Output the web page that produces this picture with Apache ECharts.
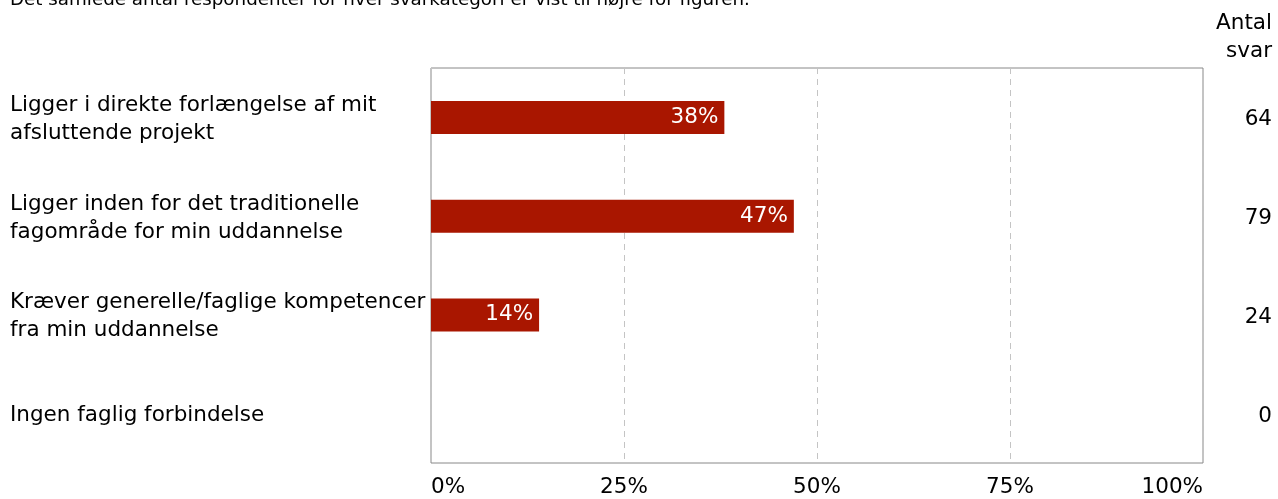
<!DOCTYPE html>
<html><head><meta charset="utf-8">
<script src="https://cdn.jsdelivr.net/npm/echarts@6/dist/echarts.min.js"></script>
<style>html,body{margin:0;padding:0;background:#fff}#c{width:1278px;height:499px}</style>
</head><body><div id="c"></div>
<script>
const categories = [
  "Ligger i direkte forlængelse af mit\nafsluttende projekt",
  "Ligger inden for det traditionelle\nfagområde for min uddannelse",
  "Kræver generelle/faglige kompetencer\nfra min uddannelse",
  "Ingen faglig forbindelse"
];
const percentValues = [38, 47, 14, 0];
const counts = [64, 79, 24, 0];
const xTicks = [0, 25, 50, 75, 100];
const subtitle = "Det samlede antal respondenter for hver svarkategori er vist til højre for figuren.";
const countHeader = ["Antal", "svar"];

const FONT = "DejaVu Sans";
const FS = 21.5;
const chart = echarts.init(document.getElementById('c'), null, {renderer: 'canvas'});
chart.setOption({
  animation: false,
  textStyle: {fontFamily: FONT},
  title: [
    {text: subtitle, left: 10, top: -9, padding: 0, textStyle: {fontFamily: FONT, fontSize: 18.3, fontWeight: 'normal', color: '#000'}}
  ],
  graphic: countHeader.map((t, i) => ({
    type: 'text', right: 6, top: 12 + i * 28,
    style: {text: t, font: FS + 'px "' + FONT + '"', fill: '#000'}
  })),
  grid: {left: 431, right: 75, top: 68, bottom: 36, show: true, borderColor: '#888', borderWidth: 1},
  xAxis: {
    type: 'value', min: 0, max: 100, interval: 25,
    axisLine: {show: false}, axisTick: {show: false},
    splitLine: {show: true, lineStyle: {color: '#c4c4c4', type: [6, 5], width: 1}},
    axisLabel: {fontFamily: FONT, fontSize: FS, color: '#000', margin: 13,
      alignMinLabel: 'left', alignMaxLabel: 'right',
      formatter: v => xTicks.includes(v) ? v + '%' : ''}
  },
  yAxis: [
    {type: 'category', data: categories, inverse: true,
     axisLine: {show: false}, axisTick: {show: false},
     axisLabel: {fontFamily: FONT, fontSize: FS, color: '#000', align: 'left', margin: 421,
       formatter: v => v.split('\n').map(s => '{a|' + s + '}').join('\n'),
       rich: {a: {fontFamily: FONT, fontSize: FS, color: '#000', lineHeight: 28, padding: [4, 0, 0, 0]}}}},
    {type: 'category', data: counts.map(String), inverse: true, position: 'right',
     axisLine: {show: false}, axisTick: {show: false},
     axisLabel: {fontFamily: FONT, fontSize: FS, color: '#000', align: 'right', margin: 69,
       formatter: v => '{a|' + v + '}',
       rich: {a: {fontFamily: FONT, fontSize: FS, color: '#000', padding: [5, 0, 0, 0]}}}}
  ],
  series: [{
    type: 'bar', data: percentValues, barWidth: 33, yAxisIndex: 0,
    itemStyle: {color: '#A91600'},
    label: {show: true, position: 'insideRight', distance: 6, color: '#fff', fontFamily: FONT, fontSize: FS,
      formatter: p => p.value > 0 ? p.value + '%' : ''}
  }]
});
</script></body></html>
